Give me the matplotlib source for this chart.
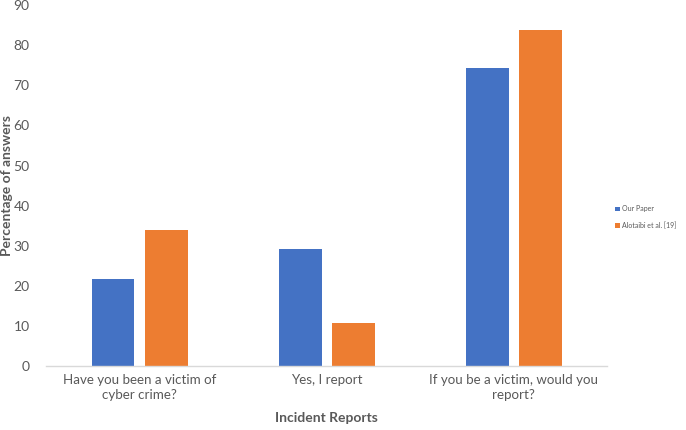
import numpy as np
import matplotlib.pyplot as plt

# -------------------------
# Data
# -------------------------
categories = ["Have you been a victim of\ncyber crime?",
              "Yes, I report",
              "If you be a victim, would you\nreport?"]
our_paper = [21.6, 29.2, 74.2]
alotaibi = [33.9, 10.8, 83.8]
series_names = ["Our Paper", "Alotaibi et al. [19]"]
y_ticks = list(range(0, 100, 10))

# -------------------------
# Plot
# -------------------------
plt.rcParams['font.family'] = ['Lato', 'DejaVu Sans']
gray = "#595959"

fig = plt.figure(figsize=(6.86, 4.3), dpi=100)
ax = fig.add_axes([0.0675, 0.149, 0.818, 0.839])

x = np.arange(len(categories))
w = 0.227
ax.bar(x - 0.142, our_paper, width=w, color="#4472C4", label=series_names[0])
ax.bar(x + 0.142, alotaibi, width=w, color="#ED7D31", label=series_names[1])

ax.set_xlim(-0.5, 2.5)
ax.set_ylim(0, 90)
ax.set_yticks(y_ticks)
ax.set_xticks(x)
ax.set_xticklabels(categories, fontsize=9.6, color=gray, linespacing=1.3)
ax.tick_params(axis='y', labelsize=10, labelcolor=gray, length=0, pad=12)
ax.tick_params(axis='x', length=0, pad=6)

for side in ["top", "right", "left"]:
    ax.spines[side].set_visible(False)
ax.spines["bottom"].set_color("#D9D9D9")
ax.spines["bottom"].set_linewidth(1)

ax.set_ylabel("Percentage of answers", fontsize=10, fontweight='bold', color=gray)
ax.yaxis.set_label_coords(-0.059, 0.5)
ax.set_xlabel("Incident Reports", fontsize=10, fontweight='bold', color=gray, labelpad=8)

fig.legend(loc='center left', bbox_to_anchor=(0.897, 0.495), frameon=False,
           fontsize=5.0, labelcolor=gray, handlelength=0.6, handleheight=0.6,
           handletextpad=0.3, labelspacing=1.3, borderaxespad=0, borderpad=0)

fig.savefig("out.png", dpi=100)
